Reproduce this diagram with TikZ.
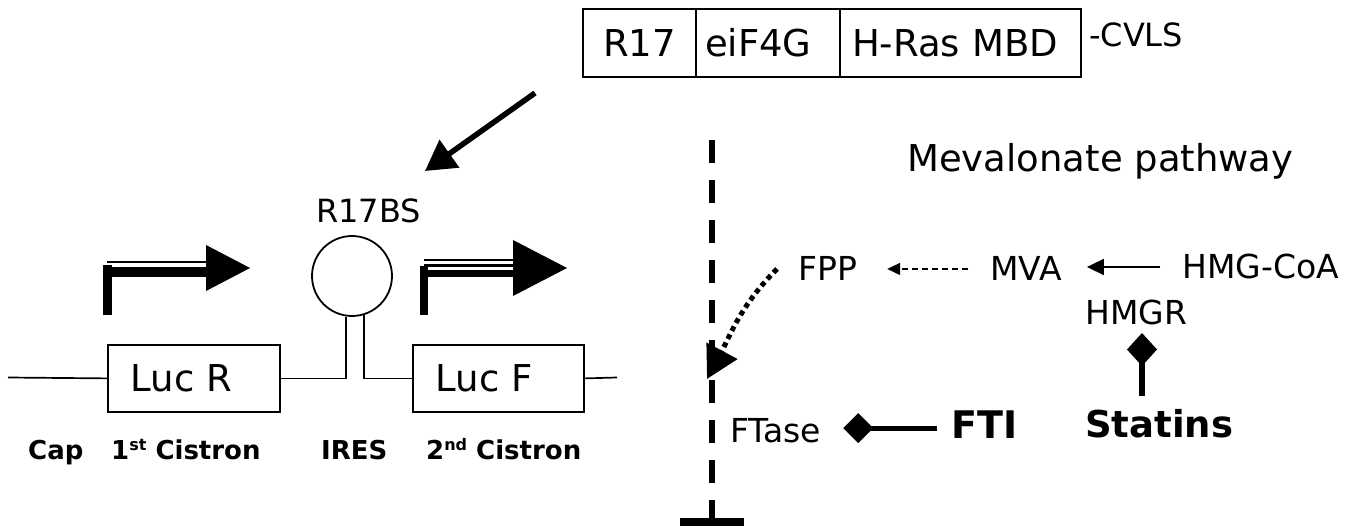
\documentclass[tikz,border=0pt]{standalone}
\usepackage{fontspec}
\setmainfont{DejaVu Sans}
\usetikzlibrary{arrows.meta,calc}
\newcommand\myfs[1]{\fontsize{#1}{#1}\selectfont}
\tikzset{
  lbl/.style={inner sep=0pt, anchor=base west},
  part/.style={draw, line width=1.8pt, minimum height=68pt, inner ysep=0pt, outer sep=0pt, font=\myfs{37}},
  lucbox/.style={draw, line width=1.8pt, minimum height=67pt, inner xsep=23pt, inner ysep=0pt, align=left, font=\myfs{37}, anchor=north west},
  thinline/.style={line width=1.7pt},
  boldlbl/.style={lbl, font=\bfseries\myfs{26}},
  pathlbl/.style={lbl, font=\myfs{33}},
}
\begin{document}
\begin{tikzpicture}[x=1pt,y=-1pt]
\useasboundingbox (0,0) rectangle (1346,526);

% ---- fusion protein box
\node[part, minimum width=113pt, inner xsep=0pt, anchor=north west] (p1) at (583,9) {R17};
\node[part, minimum width=144pt, inner xsep=9pt, text width=126pt, align=left, anchor=north west] (p2) at (p1.north east) {eiF4G};
\node[part, minimum width=241pt, inner xsep=12pt, text width=217pt, align=left, anchor=north west] (p3) at (p2.north east) {H-Ras MBD};
\node[lbl, font=\myfs{32}] (cvls) at (1089,47) {-CVLS};

% ---- diagonal arrow
\coordinate (dA) at (535,93);
\coordinate (dB) at (425,171);
\draw[line width=5.5pt, -{Triangle[length=30pt,width=33pt]}] (dA) -- (dB);

% ---- bicistronic construct
\node[lbl, font=\myfs{32}] (r17bs) at (316,223) {R17BS};
\node[draw, circle, line width=1.8pt, minimum size=80pt, inner sep=0pt] (ires) at (352,276) {};

\node[lucbox, text width=126pt] (lucr) at (107,344) {Luc R};
\node[lucbox, text width=125pt] (lucf) at (412,344) {Luc F};

\draw[thinline] (ires.262.8) |- (lucr.east);
\draw[thinline] (ires.287.5) |- (lucf.west);
\coordinate (capend) at (8,377.5);
\coordinate (tailend) at (617,377.5);
\draw[thinline] (capend) -- (lucr.west);
\draw[thinline] (lucf.east) -- (tailend);

% promoter 1
\fill (103,265) rectangle (112,315);
\fill (103,267.5) rectangle (207,277);
\draw[line width=2pt] (107,262.5) -- (207,262.5);
\fill (206,245) -- (250,268) -- (206,291) -- cycle;
% promoter 2
\fill (420,266) rectangle (428,315);
\fill (420,270) rectangle (514,277);
\draw[line width=2pt] (424,260.5) -- (514,260.5);
\draw[line width=2.2pt] (424,265.5) -- (514,265.5);
\fill (513,240) -- (567,268) -- (513,296) -- cycle;

% labels under construct
\node[boldlbl] (cap) at (28,459) {Cap};
\node[boldlbl] (cis1) at (111,459) {1\raisebox{9pt}{\myfs{16}st} Cistron};
\node[boldlbl] (iresl) at (321,459) {IRES};
\node[boldlbl] (cis2) at (426,459) {2\raisebox{9pt}{\myfs{16}nd} Cistron};

% ---- membrane (dashed line with bar)
\coordinate (dtop) at (712,140);
\coordinate (dbot) at (712,519);
\coordinate (barL) at (680,522);
\coordinate (barR) at (744,522);
\draw[line width=6pt, dash pattern=on 23pt off 17pt] (dtop) -- (dbot);
\draw[line width=8pt] (barL) -- (barR);

% ---- mevalonate pathway
\node[lbl, font=\myfs{37}] (meva) at (907,172) {Mevalonate pathway};
\node[pathlbl] (fpp) at (798,281) {FPP};
\node[pathlbl] (mva) at (990,281) {MVA};
\node[pathlbl] (hmg) at (1182,279) {HMG-CoA};
\node[pathlbl] (hmgr) at (1085,325) {HMGR};
\node[pathlbl] (ftase) at (730,442) {FTase};
\node[lbl, font=\bfseries\myfs{38}] (fti) at (951,438) {FTI};
\node[lbl, font=\bfseries\myfs{37}] (statins) at (1085,437) {Statins};

\draw[line width=1.5pt, dash pattern=on 6pt off 4pt, -{Triangle[length=13pt,width=12pt]}]
  ([xshift=-22pt]mva.west) -- ([xshift=30pt]fpp.east);
\draw[line width=1.8pt, -{Triangle[length=17pt,width=16pt]}]
  ([xshift=-22pt]hmg.west) -- ($(mva.east |- hmg.west)+(25,0)$);

\coordinate (ftip) at (707,379);
\draw[line width=5pt, dash pattern=on 5pt off 4pt, -{Triangle[length=32pt,width=34pt]}]
  ([xshift=-21pt]fpp.west) to[out=225,in=62] (ftip);

\draw[line width=5pt, -{Diamond[length=30pt,width=30pt]}]
  ($(fti.west |- ftase.east)+(-14,-2)$) -- ($(ftase.east)+(22,-2)$);

\coordinate (stTop) at (1142,396);
\coordinate (hmgrBot) at (1142,333);
\draw[line width=5.5pt, -{Diamond[length=33pt,width=30pt]}] (stTop) -- (hmgrBot);
\end{tikzpicture}
\end{document}
